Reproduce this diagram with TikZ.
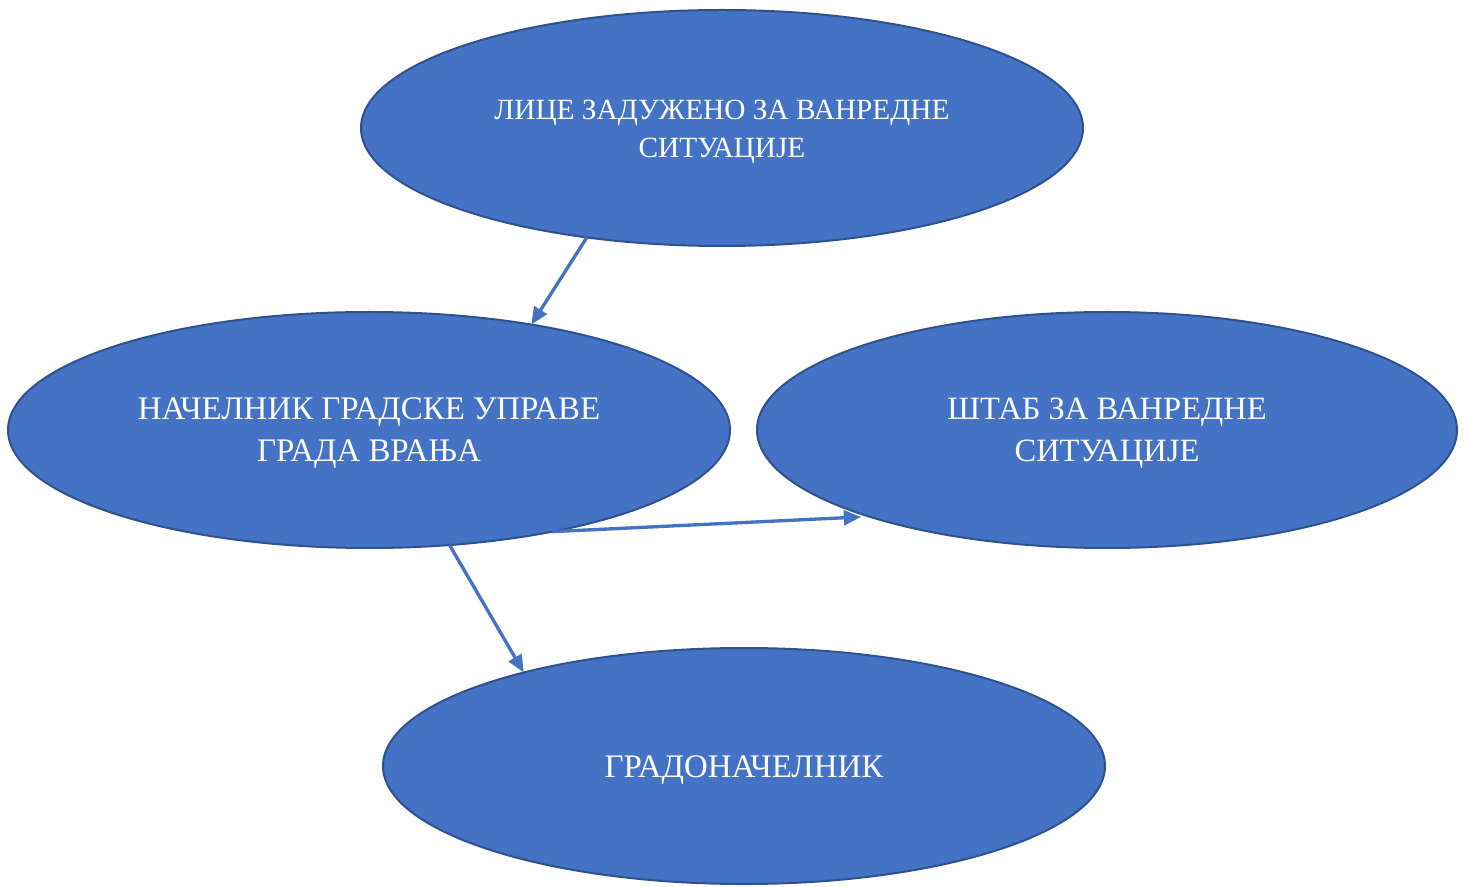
\documentclass[tikz,border=0pt]{standalone}
\usepackage{fontspec}
\setmainfont{Liberation Serif}
\usetikzlibrary{shapes.geometric,arrows.meta}
\definecolor{fillblue}{HTML}{4472C4}
\definecolor{edgeblue}{HTML}{2F528F}
\tikzset{
  oval/.style={ellipse, draw=edgeblue, line width=1.5pt, fill=fillblue,
    inner sep=0pt, outer sep=0pt, minimum height=236*0.75pt},
  ovaltext/.style={text=white, align=center, inner sep=0pt},
  conn/.style={draw=fillblue, line width=2.5pt, -{Triangle[length=13pt,width=11pt]}}
}
\begin{document}
\begin{tikzpicture}[x=0.75pt,y=-0.75pt]
\useasboundingbox (0,0) rectangle (1464,887);
\node[oval, minimum width=722*0.75pt,
  label={[ovaltext, yshift=-3pt, font=\fontsize{22pt}{29pt}\selectfont]center:ЛИЦЕ ЗАДУЖЕНО ЗА ВАНРЕДНЕ\\СИТУАЦИЈЕ}]
  (top) at (722,128) {};
\node[oval, minimum width=722*0.75pt,
  label={[ovaltext, yshift=-2.5pt, font=\fontsize{24.7pt}{31.5pt}\selectfont]center:НАЧЕЛНИК ГРАДСКЕ УПРАВЕ\\ГРАДА ВРАЊА}]
  (left) at (369,430) {};
\node[oval, minimum width=700*0.75pt,
  label={[ovaltext, yshift=-2.5pt, font=\fontsize{24.4pt}{31.5pt}\selectfont]center:ШТАБ ЗА ВАНРЕДНЕ\\СИТУАЦИЈЕ}]
  (right) at (1107,430) {};
\node[oval, minimum width=722*0.75pt,
  label={[ovaltext, yshift=-3pt, font=\fontsize{24.7pt}{31.5pt}\selectfont]center:ГРАДОНАЧЕЛНИК}]
  (bottom) at (744,766) {};
\draw[conn] (top.219.8) -- (left.33);
\draw[conn, shorten >=6pt] (left.331) -- (right.200.6);
\draw[conn] (left.305.5) -- (bottom.157);
\end{tikzpicture}
\end{document}
